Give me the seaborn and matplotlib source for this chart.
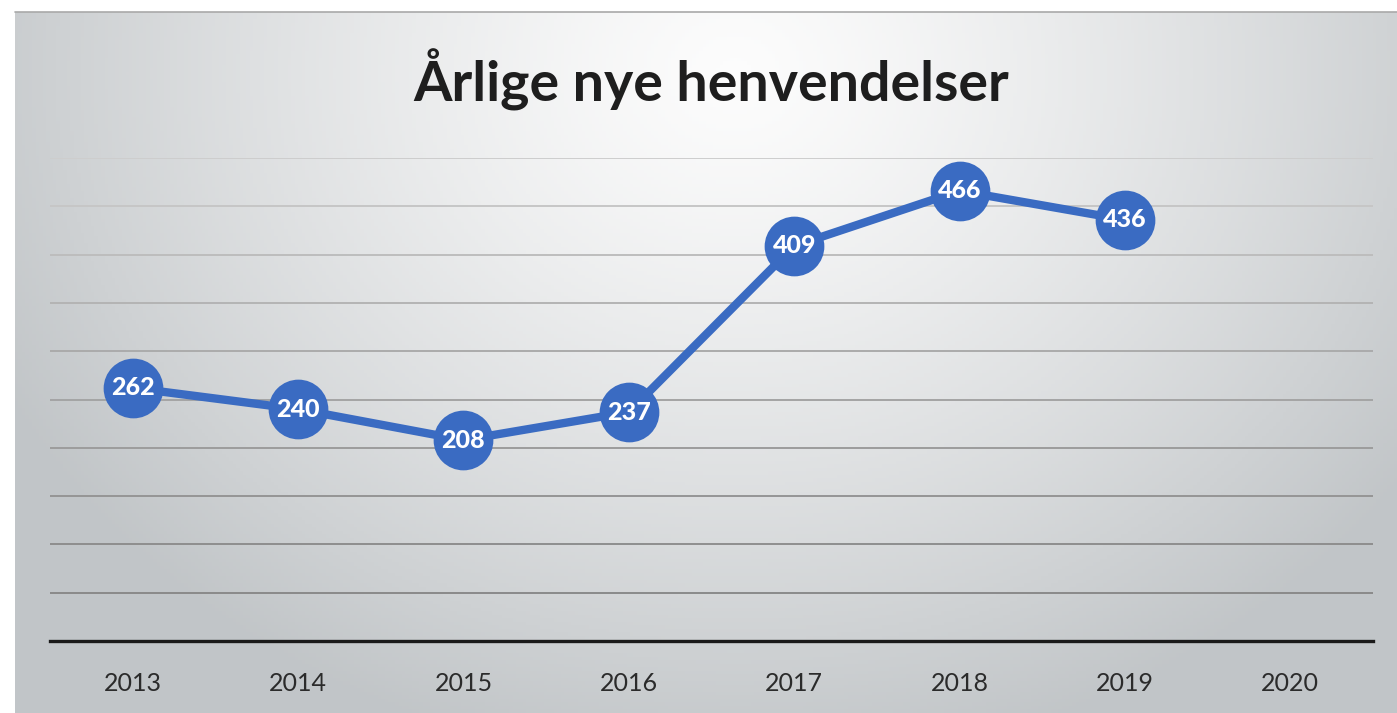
import numpy as np
import matplotlib
matplotlib.use("Agg")
import matplotlib.pyplot as plt
import seaborn as sns
import pandas as pd

years = ["2013", "2014", "2015", "2016", "2017", "2018", "2019", "2020"]
values = [262, 240, 208, 237, 409, 466, 436]
title = "Årlige nye henvendelser"

sns.set_theme(style="white")
plt.rcParams['font.family'] = ['Lato', 'DejaVu Sans']

W, H = 1397, 713
fig = plt.figure(figsize=(W / 100, H / 100), dpi=100)
fig.patch.set_facecolor("white")

# background radial gradient panel
x0, y0 = 15, 12
bg = fig.add_axes([x0 / W, 0, (W - x0) / W, (H - y0) / H], zorder=-5)
gx = np.linspace(0, W - x0, 400)
gy = np.linspace(0, H - y0, 200)
GX, GY = np.meshgrid(gx, gy)
cx, cy = 720, 60
d = np.sqrt(((GX - cx) / 820) ** 2 + ((GY - cy) / 700) ** 2)
t = np.clip(d, 0, 1) ** 1.25
white = np.array([0.99, 0.99, 0.99])
gray = np.array([0.76, 0.775, 0.785])
img = white[None, None, :] * (1 - t[..., None]) + gray[None, None, :] * t[..., None]
bg.imshow(img, aspect="auto", extent=[0, 1, 0, 1], origin="upper")
bg.axis("off")
fig.add_artist(plt.Line2D([x0 / W, 1], [1 - y0 / H, 1 - y0 / H], color="#a9a9a9", lw=1.2))

ax = fig.add_axes([50 / W, 1 - 641 / H, (1373 - 50) / W, (641 - 158) / H])
ax.set_facecolor("none")

df = pd.DataFrame({"idx": np.arange(len(values)), "value": values})
sns.lineplot(data=df, x="idx", y="value", ax=ax, color="#3a6bc2", linewidth=6,
             marker="o", markersize=43, markeredgewidth=0, clip_on=False, zorder=5)

for i, v in enumerate(values):
    ax.text(i, v, str(v), ha="center", va="center", color="white",
            fontsize=18, fontweight="black", zorder=6)

ax.set_xlim(-0.5, len(years) - 0.5)
ax.set_ylim(0, 500)
ax.set_yticks(np.arange(50, 501, 50))
ax.yaxis.grid(True, color="#a9a9a9", linewidth=1.4)
ax.set_axisbelow(True)
ax.set_yticklabels([])
ax.tick_params(axis="y", length=0)
grid_cols = ["#8a8a8a", "#8e8e8e", "#959595", "#9c9c9c", "#a4a4a4",
             "#ababab", "#b4b4b4", "#bdbdbd", "#c6c6c6", "#cdcdcd"]
for gl, c in zip(ax.get_ygridlines(), grid_cols):
    gl.set_color(c)
ax.set_xticks(range(len(years)))
ax.set_xticklabels(years, fontsize=18, color="#2b2b2b")
ax.tick_params(axis="x", length=0, pad=22)
ax.set_xlabel("")
ax.set_ylabel("")
for s in ["top", "right", "left"]:
    ax.spines[s].set_visible(False)
ax.spines["bottom"].set_color("#1a1a1a")
ax.spines["bottom"].set_linewidth(2.4)

fig.text(711 / W, 1 - 80 / H, title, ha="center", va="center", fontsize=40,
         fontweight="bold", color="#1e1e1e")

fig.savefig("out.png", dpi=100)
